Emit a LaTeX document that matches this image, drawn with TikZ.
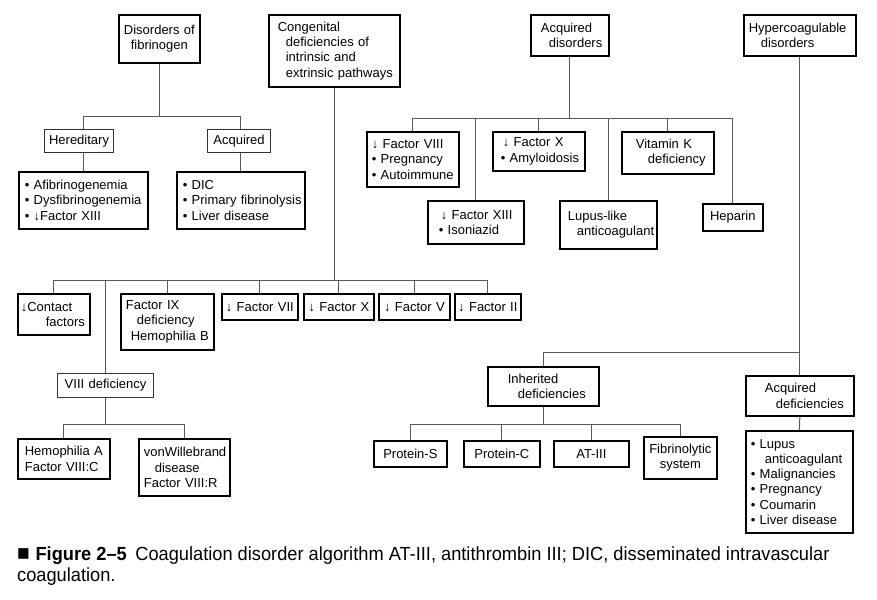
\documentclass[tikz,border=0pt]{standalone}
\usepackage{fontspec}
\setmainfont{Liberation Sans}
\newfontfamily\capfam[FakeStretch=0.96]{Liberation Sans}
\usetikzlibrary{calc}
\newcommand\dfont{\fontsize{13}{15.3}\selectfont\hyphenpenalty=10000\exhyphenpenalty=10000}
\newcommand\cfont{\capfam\fontsize{19}{21}\selectfont}
\tikzset{
  bx/.style={draw=black, line width=1.7pt, anchor=north west, inner xsep=3pt, inner ysep=0pt, font=\dfont, align=left},
  cbx/.style={bx, align=center},
  thin/.style={line width=1.1pt, draw=black!80},
  wire/.style={draw=black!65, line width=1pt},
  captxt/.style={anchor=base west, inner sep=0pt, font=\cfont}
}
\begin{document}
\begin{tikzpicture}[x=1pt,y=-1pt]
\path[fill=white] (0,0) rectangle (877,599);
\useasboundingbox (0,0) rectangle (877,599);

% ---- Disorders of fibrinogen
\node[cbx, minimum width=81pt, minimum height=48pt, text width=75pt] (fib) at (118,14) {Disorders of\\fibrinogen};
\node[cbx, thin, minimum width=69pt, minimum height=23pt, text width=63pt] (her) at (44,129) {Hereditary};
\node[cbx, thin, minimum width=63pt, minimum height=23pt, text width=57pt] (acqf) at (207,129) {Acquired};
\node[bx, minimum width=129pt, minimum height=57pt, text width=123pt] (herl) at (18,171)
  {\hspace*{3pt}•~Afibrinogenemia\\\hspace*{3pt}•~Dysfibrinogenemia\\\hspace*{3pt}•~↓Factor~XIII};
\node[bx, minimum width=128pt, minimum height=57pt, text width=122pt] (acql) at (176,171)
  {\hspace*{3pt}•~DIC\\\hspace*{3pt}•~Primary~fibrinolysis\\\hspace*{3pt}•~Liver~disease};

% ---- Congenital
\node[bx, minimum width=131pt, minimum height=72pt, text width=125pt] (cong) at (268,14)
  {\hspace*{6pt}Congenital\\\hspace*{14pt}deficiencies~of\\\hspace*{14pt}intrinsic~and\\\hspace*{14pt}extrinsic~pathways};
\node[bx, minimum width=72pt, minimum height=41pt, text width=66pt] (contact) at (17,293)
  {↓Contact\\\hspace*{25pt}factors};
\node[bx, minimum width=93pt, minimum height=56pt, text width=87pt] (f9) at (120,293)
  {\hspace*{2pt}Factor~IX\\\hspace*{13pt}deficiency\\\hspace*{7pt}Hemophilia~B};
\node[cbx, minimum width=76pt, minimum height=26pt, text width=70pt] (f7) at (221,293) {↓~Factor~VII};
\node[cbx, minimum width=70pt, minimum height=26pt, text width=64pt] (f10) at (303,293) {↓~Factor~X};
\node[cbx, minimum width=71pt, minimum height=26pt, text width=65pt] (f5) at (378,293) {↓~Factor~V};
\node[cbx, minimum width=66pt, minimum height=26pt, text width=60pt] (f2) at (454,293) {↓~Factor~II};
\node[cbx, thin, minimum width=96pt, minimum height=24pt, text width=90pt] (viii) at (57,373) {VIII~deficiency};
\node[bx, minimum width=92pt, minimum height=40pt, text width=86pt] (hemA) at (17,438)
  {\hspace*{4pt}Hemophilia~A\\\hspace*{4pt}Factor~VIII:C};
\node[bx, minimum width=91pt, minimum height=57pt, text width=85pt] (vonW) at (138,438)
  {\hspace*{2pt}vonWillebrand\\\hspace*{13pt}disease\\\hspace*{2pt}Factor~VIII:R};

% ---- Acquired disorders
\node[bx, minimum width=78pt, minimum height=41pt, text width=72pt] (acqd) at (530,14)
  {\hspace*{7pt}Acquired\\\hspace*{15pt}disorders};
\node[bx, minimum width=92pt, minimum height=55pt, text width=86pt] (af8) at (366,131)
  {\hspace*{2pt}↓~Factor~VIII\\\hspace*{2pt}•~Pregnancy\\\hspace*{2pt}•~Autoimmune};
\node[bx, minimum width=92pt, minimum height=39pt, text width=86pt] (af10) at (492,131)
  {\hspace*{7pt}↓~Factor~X\\\hspace*{5pt}•~Amyloidosis};
\node[bx, minimum width=92pt, minimum height=42pt, text width=86pt] (vitk) at (621,131)
  {\hspace*{11pt}Vitamin~K\\\hspace*{23pt}deficiency};
\node[bx, minimum width=96pt, minimum height=43pt, text width=90pt] (af13) at (427,200)
  {\hspace*{10pt}↓~Factor~XIII\\\hspace*{8pt}•~Isoniazid};
\node[bx, minimum width=97pt, minimum height=48pt, text width=91pt] (lupl) at (559,200)
  {\hspace*{5pt}Lupus-like\\\hspace*{14pt}anticoagulant};
\node[cbx, minimum width=60pt, minimum height=27pt, text width=54pt] (hep) at (702,203) {Heparin};

% ---- Hypercoagulable
\node[bx, minimum width=112pt, minimum height=41pt, text width=106pt] (hyp) at (743,14)
  {\hspace*{2pt}Hypercoagulable\\\hspace*{14pt}disorders};
\node[bx, minimum width=111pt, minimum height=39pt, text width=105pt] (inh) at (487,366)
  {\hspace*{17pt}Inherited\\\hspace*{27pt}deficiencies};
\node[bx, minimum width=108pt, minimum height=40pt, text width=102pt] (acqdef) at (745,375)
  {\hspace*{16pt}Acquired\\\hspace*{27pt}deficiencies};
\node[cbx, minimum width=73pt, minimum height=26pt, text width=67pt] (pS) at (373,440) {Protein-S};
\node[cbx, minimum width=76pt, minimum height=26pt, text width=70pt] (pC) at (463,440) {Protein-C};
\node[cbx, minimum width=75pt, minimum height=26pt, text width=69pt] (at3) at (553,440) {AT-III};
\node[cbx, minimum width=73pt, minimum height=42pt, text width=67pt] (fsys) at (643,436) {Fibrinolytic\\system};
\node[bx, minimum width=107pt, minimum height=102pt, text width=101pt] (acql2) at (745,430)
  {\hspace*{2pt}•~Lupus\\\hspace*{16pt}anticoagulant\\\hspace*{2pt}•~Malignancies\\\hspace*{2pt}•~Pregnancy\\\hspace*{2pt}•~Coumarin\\\hspace*{2pt}•~Liver~disease};

% ---- connectors: fibrinogen
\coordinate (b1) at ($(fib.south)+(0,53)$);
\draw[wire] (fib.south) -- (b1);
\draw[wire] (her.north -| herl.north) |- (b1) -| (acqf.north -| acql.north);
\draw[wire] (her.south -| herl.north) -- (herl.north);
\draw[wire] (acqf.south -| acql.north) -- (acql.north);

% ---- connectors: congenital
\coordinate (b2) at ($(cong.south)+(0,193)$);
\draw[wire] (cong.south) -- (b2);
\draw[wire] (contact.north) |- (b2) -| (f2.north);
\draw[wire] (f9.north) -- (f9.north |- b2);
\draw[wire] (f7.north) -- (f7.north |- b2);
\draw[wire] (f10.north) -- (f10.north |- b2);
\draw[wire] (f5.north) -- (f5.north |- b2);
\draw[wire] (viii.north) -- (viii.north |- b2);
\coordinate (b3) at ($(viii.south)+(0,26)$);
\draw[wire] (viii.south) -- (b3);
\draw[wire] (hemA.north) |- (b3) -| (vonW.north);

% ---- connectors: acquired disorders
\coordinate (b4) at ($(acqd.south)+(0,62)$);
\draw[wire] (acqd.south) -- (b4);
\draw[wire] (af8.north) |- (b4) -| (hep.north);
\draw[wire] (af13.north) -- (af13.north |- b4);
\draw[wire] (af10.north) -- (af10.north |- b4);
\draw[wire] (lupl.north) -- (lupl.north |- b4);
\draw[wire] (vitk.north) -- (vitk.north |- b4);

% ---- connectors: hypercoagulable
\coordinate (b5) at ($(hyp.south)+(0,296)$);
\draw[wire] (hyp.south) -- (acqdef.north);
\draw[wire] (inh.north) |- (b5);
\draw[wire] (acqdef.south) -- (acql2.north);
\coordinate (b6) at ($(inh.south)+(0,18)$);
\draw[wire] (inh.south) -- (b6);
\draw[wire] (pS.north) |- (b6) -| (fsys.north);
\draw[wire] (pC.north) -- (pC.north |- b6);
\draw[wire] (at3.north) -- (at3.north |- b6);

% ---- caption
\node[captxt] (cap1) at (17,560) {\scalebox{1.15}{■}\hspace{0.3em}\textbf{Figure 2–5}\hspace{0.45em}Coagulation disorder algorithm AT-III, antithrombin III; DIC, disseminated intravascular};
\node[captxt] (cap2) at (17,581) {coagulation.};
\end{tikzpicture}
\end{document}
